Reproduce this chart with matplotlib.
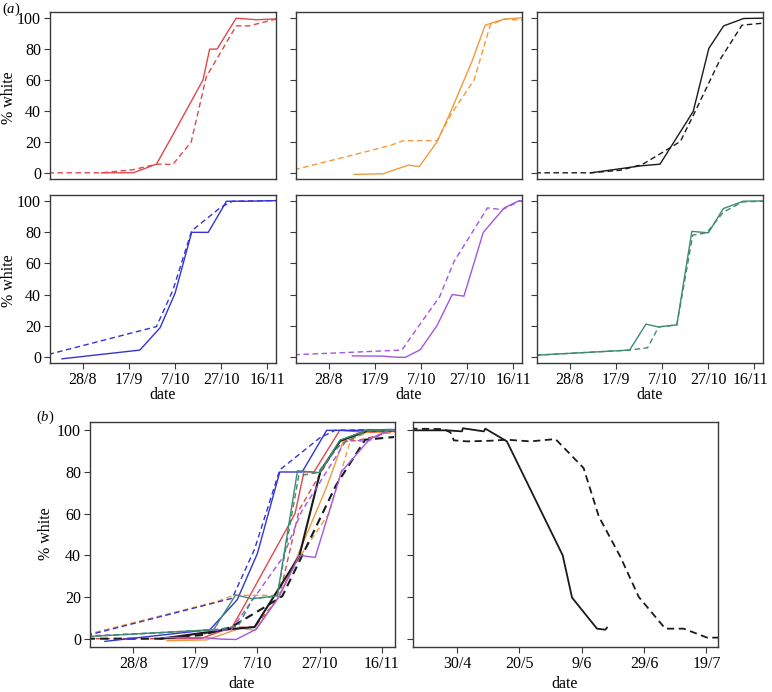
import matplotlib
matplotlib.use("Agg")
import matplotlib.pyplot as plt
from matplotlib.transforms import ScaledTranslation

plt.rcParams['font.family'] = ['Liberation Serif', 'DejaVu Serif']
plt.rcParams['font.size'] = 11
plt.rcParams['mathtext.fontset'] = 'custom'
plt.rcParams['mathtext.rm'] = 'Liberation Serif'
plt.rcParams['mathtext.it'] = 'Liberation Serif:italic'

# ---- data (x = day of year; 240 = 28/8, 120 = 30/4) ----
autumn_ticks = [240, 260, 280, 300, 320]
autumn_labels = ["28/8", "17/9", "7/10", "27/10", "16/11"]
spring_ticks = [120, 140, 160, 180, 200]
spring_labels = ["30/4", "20/5", "9/6", "29/6", "19/7"]
y_ticks = [0, 20, 40, 60, 80, 100]

red_solid_x = [248.1, 261.8, 271.9, 277.7, 292.1, 295.0, 298.2, 306.5, 310.9, 315.2, 324.0]
red_solid_y = [0, 0, 5.6, 21, 60, 80, 80, 100, 99.5, 99, 99.5]
red_dash_x = [225.0, 248.0, 261.8, 272.0, 279.0, 287.0, 293.5, 306.5, 312.0, 324.0]
red_dash_y = [0, 0, 2, 5.6, 5.4, 20, 62, 95, 95, 99.5]

orange_solid_x = [250.9, 263.6, 274.5, 279.2, 286.9, 292.7, 302.2, 307.8, 316.1, 325.5]
orange_solid_y = [-1, -0.6, 5, 4, 20, 39, 72.5, 95.5, 99.4, 100.4]
orange_dash_x = [225.0, 266.5, 272.3, 286.9, 293.5, 303.0, 310.0, 316.0, 323.4, 325.5]
orange_dash_y = [2, 17.6, 20.8, 20.8, 39, 60, 95.5, 99.4, 98.7, 100.4]

black_solid_x = [249.1, 270.7, 279.1, 293.5, 300.3, 306.7, 315.4, 324.0]
black_solid_y = [0, 4.5, 5.6, 39.7, 80.5, 95, 99.8, 100]
black_dash_x = [225.0, 249.1, 262.0, 271.4, 282.2, 288.0, 293.8, 305.3, 314.7, 324.0]
black_dash_y = [0, 0, 1.7, 5.4, 15, 20.4, 38, 73.6, 95.5, 96.8]

blue_solid_x = [230.9, 264.7, 273.5, 280.0, 287.2, 294.4, 302.3, 311.0, 324.0]
blue_solid_y = [-1.3, 4.3, 18.7, 40.9, 80, 80, 100, 100, 100.4]
blue_dash_x = [225.0, 271.9, 279.1, 287.2, 300.0, 305.0, 324.0]
blue_dash_y = [1.5, 19.4, 43, 81, 96.3, 100, 100.4]

purple_solid_x = [250.2, 263.6, 268.0, 273.1, 279.6, 286.9, 293.5, 298.6, 307.0, 316.1, 322.6, 324.8]
purple_solid_y = [0.6, 0.4, -0.2, -0.4, 4.5, 20, 40, 39, 80, 95.7, 100.4, 99.4]
purple_dash_x = [225.0, 271.6, 288.1, 294.2, 308.8, 315.3, 322.6, 324.8]
purple_dash_y = [1.3, 4.3, 38.8, 61, 95.7, 94.6, 100, 100.4]

green_solid_x = [225.0, 265.9, 273.0, 278.2, 286.4, 292.9, 300.1, 306.6, 315.2, 324.0]
green_solid_y = [1, 4.3, 21, 19.2, 20.5, 80.6, 79.7, 95.3, 100, 100.2]
green_dash_x = [225.0, 265.9, 273.7, 278.5, 286.4, 293.3, 299.4, 306.6, 315.0, 324.0]
green_dash_y = [1, 4.3, 5.8, 19.2, 20.5, 78.2, 79.7, 93, 99.6, 100]

spring_solid_x = [105.0, 116.8, 121.6, 121.9, 128.6, 129.1, 136.0, 153.9, 156.9, 164.9, 167.6, 168.1]
spring_solid_y = [100, 100, 99.5, 101, 99.5, 100.8, 94.7, 40, 19.7, 4.8, 4.3, 5.3]
spring_dash_x = [105.0, 115.7, 117.9, 119.0, 123.2, 130.7, 136.0, 143.5, 151.6, 160.6, 165.5, 172.4,
                 178.3, 186.8, 192.7, 200.2, 205.0]
spring_dash_y = [100.8, 100.6, 99, 95.2, 94.7, 95, 95.5, 94.7, 95.8, 81.9, 58.6, 39.3,
                 20, 4.8, 4.8, 0.5, 0.5]

colors = {"red": "#e2474a", "orange": "#f39a3a", "black": "#1a1a1a",
          "blue": "#3434d6", "purple": "#a455e2", "green": "#3f8a72"}

series = [
    ("red", red_solid_x, red_solid_y, red_dash_x, red_dash_y),
    ("orange", orange_solid_x, orange_solid_y, orange_dash_x, orange_dash_y),
    ("black", black_solid_x, black_solid_y, black_dash_x, black_dash_y),
    ("blue", blue_solid_x, blue_solid_y, blue_dash_x, blue_dash_y),
    ("purple", purple_solid_x, purple_solid_y, purple_dash_x, purple_dash_y),
    ("green", green_solid_x, green_solid_y, green_dash_x, green_dash_y),
]

W, H = 772, 692
FS = 11.5
fig = plt.figure(figsize=(W / 100, H / 100), dpi=100)


def add_ax(x0, x1, y0, y1):
    return fig.add_axes([x0 / W, 1 - y1 / H, (x1 - x0) / W, (y1 - y0) / H])


def ftext(x, y, s, **kw):
    fig.text(x / W, 1 - y / H, s, ha="center", va="center", **kw)


def style(ax, xlim, xticks, xlabels, show_x, show_ylab):
    ax.set_xlim(*xlim)
    ax.set_ylim(-4, 104)
    for s in ax.spines.values():
        s.set_color("#3a3a3a")
        s.set_linewidth(1.0)
    ax.set_yticks(y_ticks)
    ax.tick_params(axis="both", direction="out", length=4, width=0.8,
                   color="#3a3a3a", pad=2.5, labelsize=FS)
    if show_ylab:
        ax.set_yticklabels([str(v) for v in y_ticks])
    else:
        ax.set_yticklabels([])
    if show_x:
        ax.set_xticks(xticks)
        ax.set_xticklabels(xlabels)
    else:
        ax.set_xticks([])


dash = (0, (4, 2.5))
autumn_lim = (225.7, 323.8)

cols = [(50, 276), (296, 522), (537, 763)]
rows = [(12, 179), (195, 363)]
for i, (cname, sx, sy, dx, dy) in enumerate(series):
    r, c = divmod(i, 3)
    ax = add_ax(cols[c][0], cols[c][1], rows[r][0], rows[r][1])
    ax.plot(dx, dy, color=colors[cname], lw=1.0, linestyle=dash)
    ax.plot(sx, sy, color=colors[cname], lw=1.0)
    style(ax, autumn_lim, autumn_ticks, autumn_labels, r == 1, c == 0)
    if c == 0:
        ftext(9, (rows[r][0] + rows[r][1]) / 2 + 2, "% white", rotation=90, fontsize=FS)
    if r == 1:
        ftext((cols[c][0] + cols[c][1]) / 2, 395, "date", fontsize=FS)
        if c == 2:
            lab = ax.get_xticklabels()[-1]
            lab.set_transform(lab.get_transform() + ScaledTranslation(-4 / 100, 0, fig.dpi_scale_trans))

# (b) left: all series overlaid
axb = add_ax(90, 395, 422, 647)
for cname, sx, sy, dx, dy in series:
    lw = 1.5 if cname == "black" else 1.0
    axb.plot(dx, dy, color=colors[cname], lw=lw, linestyle=dash)
    axb.plot(sx, sy, color=colors[cname], lw=lw)
style(axb, (226.1, 324.3), autumn_ticks, autumn_labels, True, True)
ftext(46, 534, "% white", rotation=90, fontsize=FS)
ftext(242, 684, "date", fontsize=FS)

# (b) right: spring
axs = add_ax(413, 718, 422, 647)
axs.plot(spring_dash_x, spring_dash_y, color="#1a1a1a", lw=1.3, linestyle=dash)
axs.plot(spring_solid_x, spring_solid_y, color="#1a1a1a", lw=1.3)
style(axs, (105.9, 203.7), spring_ticks, spring_labels, True, False)
ftext(565, 684, "date", fontsize=FS)

ftext(11, 9.5, r"$(\mathit{a})$", fontsize=10.5)
ftext(45, 417, r"$(\mathit{b})$", fontsize=10.5)

fig.savefig("out.png", dpi=100)
